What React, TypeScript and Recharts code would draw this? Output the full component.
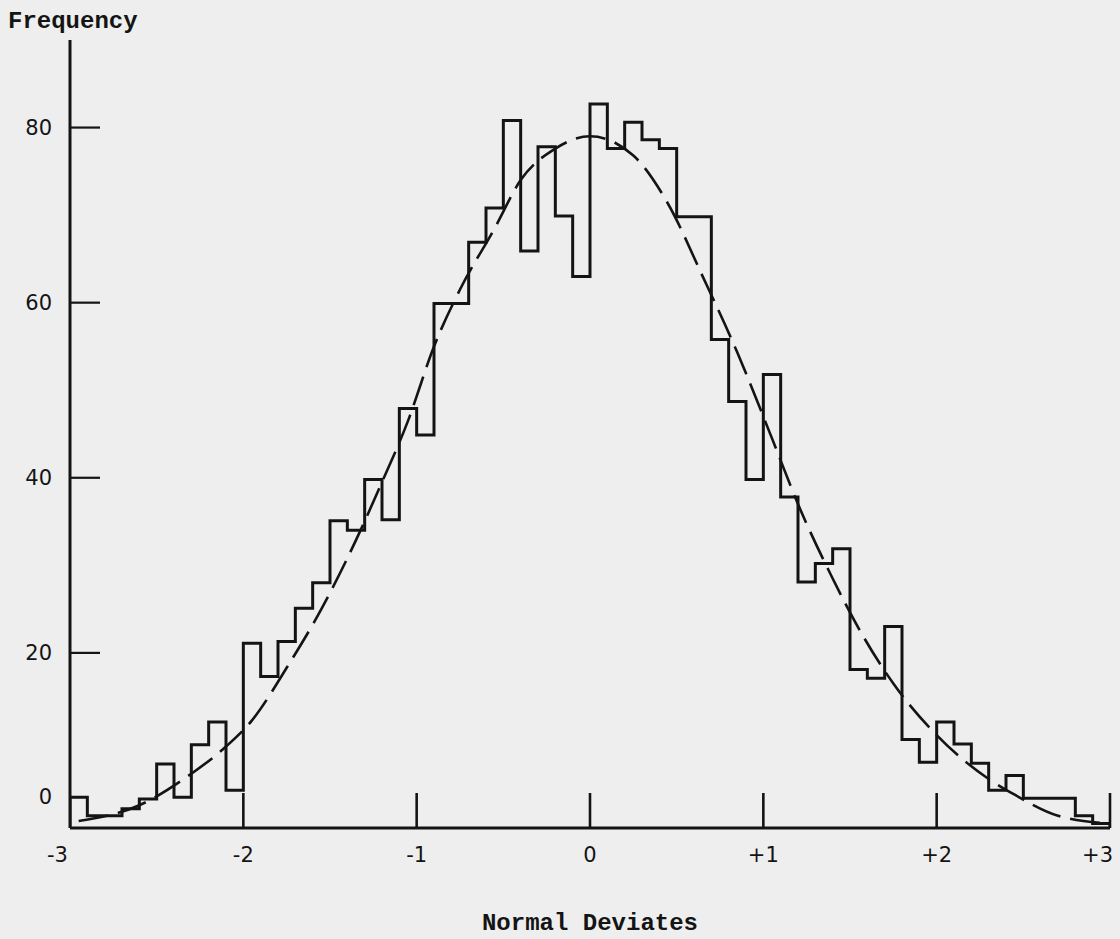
import React from "react";
import { LineChart, Line, XAxis, YAxis, Label } from "recharts";

// Histogram bins (left edges, width 0.1) and their frequencies
const binLefts = [
  -3.0, -2.9, -2.8, -2.7, -2.6, -2.5, -2.4, -2.3, -2.2, -2.1,
  -2.0, -1.9, -1.8, -1.7, -1.6, -1.5, -1.4, -1.3, -1.2, -1.1,
  -1.0, -0.9, -0.8, -0.7, -0.6, -0.5, -0.4, -0.3, -0.2, -0.1,
  0.0, 0.1, 0.2, 0.3, 0.4, 0.5, 0.6, 0.7, 0.8, 0.9,
  1.0, 1.1, 1.2, 1.3, 1.4, 1.5, 1.6, 1.7, 1.8, 1.9,
  2.0, 2.1, 2.2, 2.3, 2.4, 2.5, 2.6, 2.7, 2.8, 2.9,
];
const binCounts = [
  3.5, 1.4, 1.4, 2.2, 3.3, 7.3, 3.5, 9.5, 12.1, 4.3,
  21.1, 17.3, 21.3, 25.1, 28.0, 35.1, 34.0, 39.8, 35.2, 47.9,
  44.9, 59.9, 59.9, 66.9, 70.8, 80.8, 65.9, 77.8, 69.9, 63.0,
  82.7, 77.6, 80.6, 78.6, 77.6, 69.8, 69.8, 55.8, 48.7, 39.8,
  51.8, 37.8, 28.1, 30.2, 31.9, 18.1, 17.1, 23.0, 10.1, 7.5,
  12.1, 9.6, 7.4, 4.3, 6.0, 3.4, 3.4, 3.4, 1.4, 0.5,
];
const rangeStart = -3;
const rangeEnd = 3;

// Dashed fitted curve
const curveX = [
  -2.95, -2.6, -2.3, -2.1, -1.95, -1.75, -1.55, -1.4, -1.2, -1.05,
  -0.9, -0.75, -0.55, -0.4, -0.2, 0.0, 0.25, 0.45, 0.65, 0.85,
  1.05, 1.2, 1.4, 1.55, 1.75, 2.0, 2.3, 2.45, 2.7, 3.0,
];
const curveY = [
  0.8, 2.6, 6.2, 9.3, 12.3, 18.3, 25.0, 30.8, 39.5, 46.5,
  55.0, 61.5, 68.5, 74.0, 77.6, 79.0, 76.8, 71.3, 63.0, 54.3,
  44.5, 37.0, 28.5, 22.8, 16.5, 10.6, 5.6, 3.8, 1.4, 0.5,
];

const xTicks = [-3, -2, -1, 0, 1, 2, 3];
const xTickLabels = ["-3", "-2", "-1", "0", "+1", "+2", "+3"];
const yTicks = [0, 20, 40, 60, 80];
const yTickLabels = ["0", "20", "40", "60", "80"];

const histData = [
  { x: rangeStart, freq: 0 },
  ...binLefts.map((x, i) => ({ x, freq: binCounts[i] })),
  { x: rangeEnd, freq: binCounts[binCounts.length - 1] },
  { x: rangeEnd, freq: 0 },
];
const curveData = curveX.map((x, i) => ({ x, fit: curveY[i] }));

const INK = "#141414";
const TICK_FONT = "'DejaVu Sans', sans-serif";
const TYPE_FONT = "'Liberation Mono', 'DejaVu Sans Mono', monospace";

const YTick = (props: any) => {
  const { x, y, payload } = props;
  const v = payload.value;
  const i = yTicks.indexOf(v);
  const isZero = v === 0;
  return (
    <g>
      {!isZero && (
        <line x1={x + 18} x2={x + 48} y1={y} y2={y} stroke={INK} strokeWidth={2.2} />
      )}
      <text
        x={x}
        y={isZero ? y - 31 : y}
        textAnchor="end"
        dominantBaseline="central"
        fontFamily={TICK_FONT}
        fontSize={21}
        fill={INK}
      >
        {yTickLabels[i]}
      </text>
    </g>
  );
};

const XTick = (props: any) => {
  const { x, y, payload } = props;
  const v = payload.value;
  const i = xTicks.indexOf(v);
  const first = i === 0;
  const last = i === xTicks.length - 1;
  return (
    <g>
      {!first && (
        <line x1={x} x2={x} y1={y - 27} y2={y - 62} stroke={INK} strokeWidth={2.6} />
      )}
      <text
        x={first ? x - 2 : last ? x + 3 : x}
        y={y}
        textAnchor={first || last ? "end" : "middle"}
        dominantBaseline="central"
        fontFamily={TICK_FONT}
        fontSize={21}
        fill={INK}
      >
        {xTickLabels[i]}
      </text>
    </g>
  );
};

export default function App() {
  return (
    <div
      style={{
        position: "absolute",
        left: 0,
        top: 0,
        width: 1120,
        height: 939,
        background: "#eeeeee",
        overflow: "hidden",
      }}
    >
      <div
        style={{
          position: "absolute",
          left: 8,
          top: 10,
          fontFamily: TYPE_FONT,
          fontWeight: "bold",
          fontSize: 24,
          lineHeight: "24px",
          color: INK,
        }}
      >
        Frequency
      </div>
      <LineChart
        width={1120}
        height={939}
        margin={{ top: 40, right: 10, bottom: 11, left: 0 }}
      >
        <XAxis
          type="number"
          dataKey="x"
          domain={[rangeStart, rangeEnd]}
          ticks={xTicks}
          allowDataOverflow
          height={100}
          tickSize={0}
          tickMargin={27}
          tick={<XTick />}
          axisLine={{ stroke: INK, strokeWidth: 3 }}
          tickLine={false}
        >
          <Label
            value="Normal Deviates"
            position="insideBottom"
            offset={-2}
            style={{
              fontFamily: TYPE_FONT,
              fontWeight: "bold",
              fontSize: 24,
              fill: INK,
            }}
          />
        </XAxis>
        <YAxis
          type="number"
          domain={[0, 90]}
          ticks={yTicks}
          allowDataOverflow
          width={70}
          tickSize={0}
          tickMargin={18}
          tick={<YTick />}
          axisLine={{ stroke: INK, strokeWidth: 3 }}
          tickLine={false}
        />
        <Line
          data={histData}
          dataKey="freq"
          type="stepAfter"
          stroke={INK}
          strokeWidth={3}
          dot={false}
          activeDot={false}
          isAnimationActive={false}
        />
        <Line
          data={curveData}
          dataKey="fit"
          type="monotone"
          stroke={INK}
          strokeWidth={2.6}
          strokeDasharray="30 10"
          dot={false}
          activeDot={false}
          isAnimationActive={false}
        />
      </LineChart>
    </div>
  );
}
